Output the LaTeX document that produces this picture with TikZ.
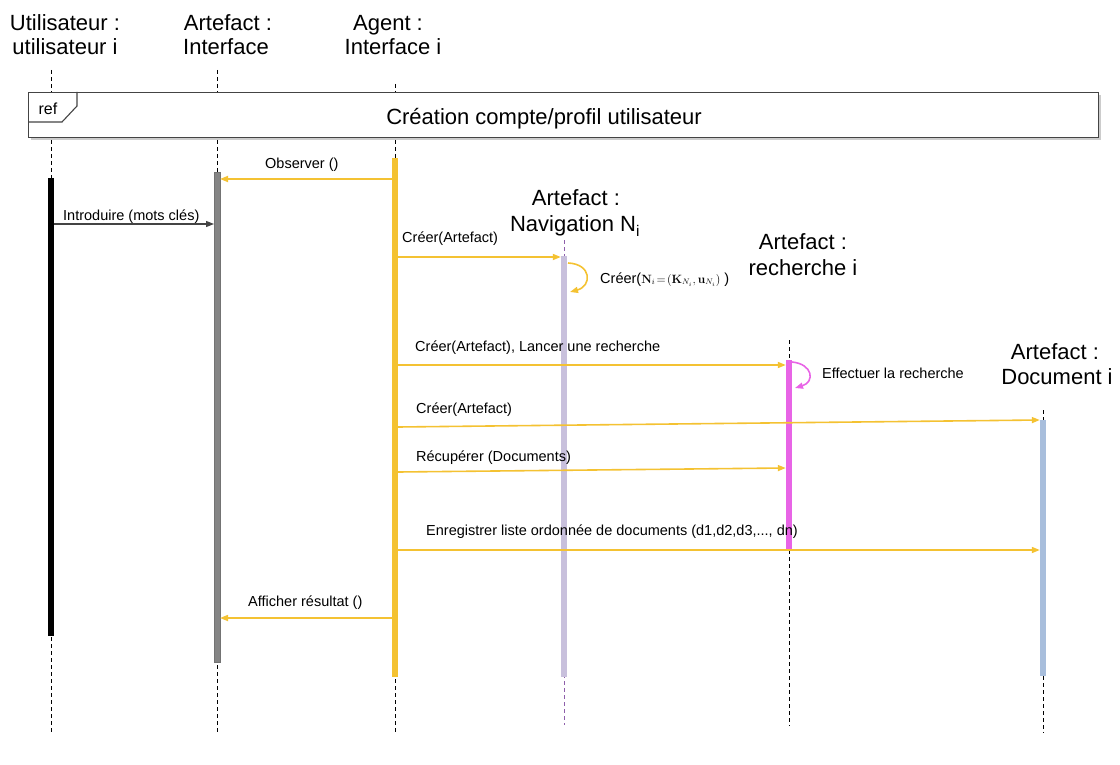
\documentclass[tikz,border=0pt]{standalone}
\usepackage[no-math]{fontspec}
\setmainfont{Liberation Sans}
\usetikzlibrary{arrows.meta,shadows}
\definecolor{agentyellow}{HTML}{F4C232}
\definecolor{ifacegray}{HTML}{858585}
\definecolor{navlav}{HTML}{C8C0DC}
\definecolor{rechmag}{HTML}{E864E6}
\definecolor{docblue}{HTML}{A8BEDC}
\definecolor{navdash}{HTML}{8E5FAA}
\definecolor{msggray}{HTML}{444444}
\begin{document}
\begin{tikzpicture}[x=1pt,y=-1pt,
  head/.style={font=\fontsize{22}{24}\selectfont, anchor=base, inner sep=0pt},
  msg/.style={font=\fontsize{14.5}{16}\selectfont, anchor=base west, inner sep=0pt},
  life/.style={dash pattern=on 4pt off 3pt, line width=0.8pt},
  bar/.style={draw=none, inner sep=0pt, minimum width=6pt, anchor=north},
  ymsg/.style={agentyellow, line width=1.6pt, -{Triangle[length=8pt,width=6pt]}},
  mmsg/.style={rechmag, line width=1.6pt, -{Triangle[length=8pt,width=6pt]}},
  gmsg/.style={msggray, line width=1.3pt, -{Triangle[length=8pt,width=6pt]}},
]
\useasboundingbox (0,0) rectangle (1120,765);

% lifeline heads
\node[head] (h1a) at (65,31) {Utilisateur :};
\node[head] (h1b) at (65,55) {utilisateur i};
\node[head] (h2a) at (228,31) {Artefact :};
\node[head] (h2b) at (226,55) {Interface};
\node[head] (h3a) at (388,31) {Agent :};
\node[head] (h3b) at (393,55) {Interface i};
\node[head] (h4a) at (576,205) {Artefact :};
\node[head] (h4b) at (575,232) {Navigation N\textsubscript{i}};
\node[head] (h5a) at (803,249) {Artefact :};
\node[head] (h5b) at (803,275) {recherche i};
\node[head] (h6a) at (1055,359) {Artefact :};
\node[head] (h6b) at (1057,384) {Document i};

% dashed lifelines
\draw[life] (51,70) -- (51,733);
\draw[life] (217,70) -- (217,733);
\draw[life] (395,84) -- (395,733);
\draw[life, navdash] (564,240) -- (564,725);
\draw[life] (789,340) -- (789,726);
\draw[life] (1043,410) -- (1043,733);

% interaction use
\node[draw=msggray, line width=1.1pt, fill=white, minimum width=1070pt, minimum height=45pt,
      anchor=north west, inner sep=0pt,
      drop shadow={shadow xshift=2pt, shadow yshift=-2pt, opacity=0.4}] (ref) at (28,92) {};
\draw[msggray, line width=1.1pt] (28,122) -- (62,122) -- (77,106) -- (77,92);
\node[font=\fontsize{16}{18}\selectfont, anchor=base, inner sep=0pt] (reflbl) at (48,115) {ref};
\node[font=\fontsize{22}{24}\selectfont, anchor=base, inner sep=0pt] (reftitle) at (544,125)
  {Création compte/profil utilisateur};

% activation bars
\node[bar, fill=black, minimum height=458pt] (b1) at (51,178) {};
\node[bar, fill=ifacegray, draw=black!55, line width=0.4pt, minimum width=5.6pt, minimum height=490pt] (b2) at (217,172) {};
\node[bar, fill=agentyellow, minimum height=519pt] (b3) at (395,158) {};
\node[bar, fill=navlav, minimum height=421pt] (b4) at (564,256) {};
\node[bar, fill=rechmag, minimum height=190pt] (b5) at (789,360) {};
\node[bar, fill=docblue, minimum height=256pt] (b6) at (1043,420) {};

% message heights
\coordinate (y1) at (0,179);
\coordinate (y2) at (0,224);
\coordinate (y3) at (0,257);
\coordinate (y4) at (0,365);
\coordinate (y5s) at (0,427);
\coordinate (y5e) at (0,420);
\coordinate (y6s) at (0,472);
\coordinate (y6e) at (0,468);
\coordinate (y7) at (0,550);
\coordinate (y8) at (0,618);

% messages
\draw[ymsg] (b3.west |- y1) -- (b2.east |- y1);
\node[msg] (t1) at (265,168) {Observer ()};

\draw[gmsg] (b1.east |- y2) -- (b2.west |- y2);
\node[msg] (t2) at (63,220) {Introduire (mots clés)};

\draw[ymsg] (b3.east |- y3) -- (b4.west |- y3);
\node[msg] (t3) at (402,242) {Créer(Artefact)};

\coordinate (s1a) at (568,263);
\coordinate (s1b) at (570,292);
\draw[ymsg] (s1a) .. controls (592,264) and (592,286) .. (s1b);
\node[msg] (t4) at (600,283) {Créer({\fontsize{11.5}{13}\selectfont$\mathbf{N}_i\!=\!\bigl(\mathbf{K}_{N_i},\mathbf{u}_{N_i}\bigr)$}\ )};

\draw[ymsg] (b3.east |- y4) -- (b5.west |- y4);
\node[msg] (t5) at (415,351) {Créer(Artefact), Lancer une recherche};

\coordinate (s2a) at (792,362);
\coordinate (s2b) at (795,388);
\draw[mmsg] (s2a) .. controls (813,364) and (815,382) .. (s2b);
\node[msg] (t6) at (822,378) {Effectuer la recherche};

\draw[ymsg] (b3.east |- y5s) -- (b6.west |- y5e);
\node[msg] (t7) at (416,413) {Créer(Artefact)};

\draw[ymsg] (b3.east |- y6s) -- (b5.west |- y6e);
\node[msg] (t8) at (416,461) {Récupérer (Documents)};

\draw[ymsg] (b3.east |- y7) -- (b6.west |- y7);
\node[msg] (t9) at (426,535) {Enregistrer liste ordonnée de documents (d1,d2,d3,..., dn)};

\draw[ymsg] (b3.west |- y8) -- (b2.east |- y8);
\node[msg] (t10) at (248,606) {Afficher résultat ()};
\end{tikzpicture}
\end{document}
